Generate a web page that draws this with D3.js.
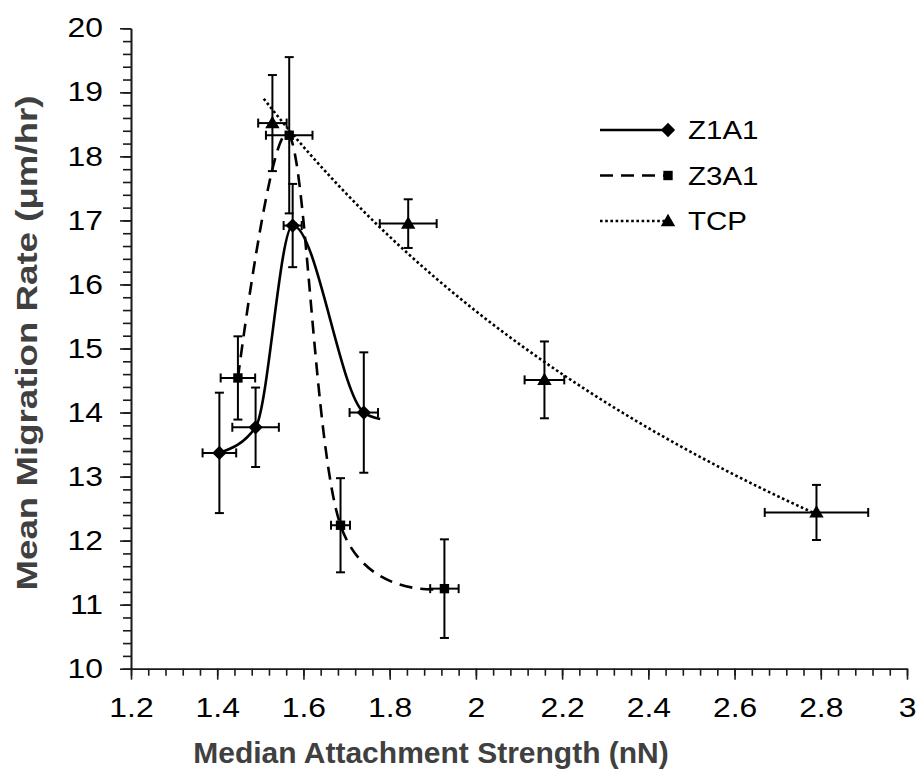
<!DOCTYPE html>
<html>
<head>
<meta charset="utf-8">
<script src="https://cdn.jsdelivr.net/npm/d3@7"></script>
<style>
  html, body { margin: 0; padding: 0; background: #fff; }
  svg { display: block; }
</style>
</head>
<body>
<div id="container"></div>
<script>
// data
const z1Strength = [1.405, 1.489, 1.575, 1.740];
const z1Rate = [13.37, 13.77, 16.92, 14.00];
const z1RateErr = [0.94, 0.62, 0.65, 0.94];
const z1StrengthErr = [0.039, 0.054, 0.021, 0.033];
const z1LineEnd = [1.778, 13.90]; // the smoothed Z1A1 line runs on a little past the last marker

const z3Strength = [1.448, 1.567, 1.686, 1.927];
const z3Rate = [14.54, 18.33, 12.24, 11.25];
const z3RateErr = [0.65, 1.22, 0.735, 0.77];
const z3StrengthErr = [0.040, 0.054, 0.022, 0.033];

const tcpStrength = [1.528, 1.843, 2.159, 2.790];
const tcpRate = [18.52, 16.95, 14.51, 12.44];
const tcpRateErr = [0.75, 0.38, 0.60, 0.43];
const tcpStrengthErr = [0.033, 0.066, 0.046, 0.120];

const seriesNames = ['Z1A1', 'Z3A1', 'TCP'];
const xTicks = [1.2, 1.4, 1.6, 1.8, 2, 2.2, 2.4, 2.6, 2.8, 3];
const yTicks = [10, 11, 12, 13, 14, 15, 16, 17, 18, 19, 20];

const width = 917, height = 777;
const SX = 1.18; // tick and legend text in the original is a bit wide
const FONT = '"Liberation Sans", Arial, sans-serif';

const svg = d3.select('div#container').append('svg')
	.attr('width', width)
	.attr('height', height)
	.style('background', '#fff');

const x = d3.scaleLinear().domain([1.2, 3]).range([131, 907]);
const y = d3.scaleLinear().domain([10, 20]).range([668.7, 28.3]);

// axes (minor first, then major with labels)
const xMinor = d3.range(0, 46).map(i => 1.2 + i * 0.04);
const yMinor = d3.range(0, 51).map(i => 10 + i * 0.2);

svg.append('g')
	.attr('transform', `translate(0,${y(10)})`)
	.call(d3.axisBottom(x).tickValues(xMinor).tickSize(7).tickSizeOuter(0).tickFormat(''));
svg.append('g')
	.attr('transform', `translate(${x(1.2)},0)`)
	.call(d3.axisLeft(y).tickValues(yMinor).tickSize(8).tickSizeOuter(0).tickFormat(''));

const xAxis = svg.append('g')
	.attr('transform', `translate(0,${y(10)})`)
	.call(d3.axisBottom(x).tickValues(xTicks).tickSize(11).tickSizeOuter(0).tickPadding(18).tickFormat(d => String(d)));
const yAxis = svg.append('g')
	.attr('transform', `translate(${x(1.2)},0)`)
	.call(d3.axisLeft(y).tickValues(yTicks).tickSize(11).tickSizeOuter(0).tickPadding(17).tickFormat(d => String(d)));

svg.selectAll('.domain, .tick line').attr('stroke', '#1a1a1a').attr('stroke-width', 1.6);
xAxis.selectAll('.tick text')
	.attr('font-family', FONT).attr('font-size', 27).attr('fill', '#000')
	.attr('transform', `scale(${SX},1)`);
yAxis.selectAll('.tick text')
	.attr('font-family', FONT).attr('font-size', 27).attr('fill', '#000')
	.attr('x', -28 / SX)
	.attr('transform', `scale(${SX},1)`);

// axis titles
svg.append('text')
	.attr('x', 431).attr('y', 763)
	.attr('text-anchor', 'middle')
	.attr('font-family', FONT).attr('font-weight', 'bold').attr('font-size', 30)
	.attr('fill', '#404040')
	.text('Median Attachment Strength (nN)');

svg.append('text')
	.attr('transform', 'translate(37,343) rotate(-90)')
	.attr('text-anchor', 'middle')
	.attr('font-family', FONT).attr('font-weight', 'bold').attr('font-size', 30)
	.attr('textLength', 495).attr('lengthAdjust', 'spacingAndGlyphs')
	.attr('fill', '#404040')
	.text('Mean Migration Rate (μm/hr)');

// series
const series = [
	{ name: 'Z1A1', xs: z1Strength, ys: z1Rate, ye: z1RateErr, xe: z1StrengthErr, dash: null, marker: 'diamond' },
	{ name: 'Z3A1', xs: z3Strength, ys: z3Rate, ye: z3RateErr, xe: z3StrengthErr, dash: '13,8', marker: 'square' },
	{ name: 'TCP', xs: tcpStrength, ys: tcpRate, ye: tcpRateErr, xe: tcpStrengthErr, dash: '2.6,2.6', marker: 'triangle' },
];

const symbolFor = {
	diamond: d3.symbol().type(d3.symbolDiamond2).size(130),
	square: d3.symbol().type(d3.symbolSquare2).size(112),
	triangle: d3.symbol().type(d3.symbolTriangle).size(90),
};

// Z1A1 and Z3A1: smoothed lines through the points
const z1Line = z1Strength.map((v, i) => [v, z1Rate[i]]).concat([z1LineEnd]);
const z3Line = z3Strength.map((v, i) => [v, z3Rate[i]]);
const z1Path = d3.line().x(d => x(d[0])).y(d => y(d[1])).curve(d3.curveMonotoneX);
const z3Path = d3.line().x(d => x(d[0])).y(d => y(d[1])).curve(d3.curveCatmullRom.alpha(0));

svg.append('path')
	.attr('d', z1Path(z1Line))
	.attr('fill', 'none')
	.attr('stroke', '#000')
	.attr('stroke-width', 2.6);
svg.append('path')
	.attr('d', z3Path(z3Line))
	.attr('fill', 'none')
	.attr('stroke', '#000')
	.attr('stroke-width', 2.6)
	.attr('stroke-dasharray', '13,8');

// TCP: power trendline fitted to its points
const lx = tcpStrength.map(Math.log), ly = tcpRate.map(Math.log);
const mx = d3.mean(lx), my = d3.mean(ly);
const b = d3.sum(lx, (v, i) => (v - mx) * (ly[i] - my)) / d3.sum(lx, v => (v - mx) ** 2);
const a = Math.exp(my - b * mx);
const lo = d3.min(tcpStrength) - 0.02, hi = d3.max(tcpStrength);
const trendX = d3.range(0, 81).map(i => lo + (hi - lo) * i / 80);
svg.append('path')
	.attr('d', d3.line().x(d => x(d)).y(d => y(a * Math.pow(d, b)))(trendX))
	.attr('fill', 'none')
	.attr('stroke', '#000')
	.attr('stroke-width', 2.6)
	.attr('stroke-dasharray', '2.6,2.6');

// error bars and markers
const cap = 4.5;
series.forEach(s => {
	const g = svg.append('g').attr('stroke', '#000').attr('stroke-width', 2);
	s.xs.forEach((v, i) => {
		const cx = x(v), cy = y(s.ys[i]);
		const y0 = y(s.ys[i] - s.ye[i]), y1 = y(s.ys[i] + s.ye[i]);
		const x0 = x(v - s.xe[i]), x1 = x(v + s.xe[i]);
		g.append('line').attr('x1', cx).attr('x2', cx).attr('y1', y0).attr('y2', y1);
		g.append('line').attr('x1', cx - cap).attr('x2', cx + cap).attr('y1', y0).attr('y2', y0);
		g.append('line').attr('x1', cx - cap).attr('x2', cx + cap).attr('y1', y1).attr('y2', y1);
		g.append('line').attr('x1', x0).attr('x2', x1).attr('y1', cy).attr('y2', cy);
		g.append('line').attr('x1', x0).attr('x2', x0).attr('y1', cy - cap).attr('y2', cy + cap);
		g.append('line').attr('x1', x1).attr('x2', x1).attr('y1', cy - cap).attr('y2', cy + cap);
	});
	svg.append('g').selectAll('path')
		.data(s.xs.map((v, i) => [v, s.ys[i]]))
		.enter()
		.append('path')
		.attr('transform', d => `translate(${x(d[0])},${y(d[1]) + (s.marker === 'triangle' ? 1 : 0)})`)
		.attr('d', symbolFor[s.marker])
		.attr('fill', '#000');
});

// legend
const legend = svg.append('g').attr('transform', 'translate(600,130)');
series.forEach((s, i) => {
	const row = legend.append('g').attr('transform', `translate(0,${i * 45.5})`);
	row.append('line')
		.attr('x1', 0).attr('x2', 68).attr('y1', 0).attr('y2', 0)
		.attr('stroke', '#000').attr('stroke-width', 2.6)
		.attr('stroke-dasharray', s.dash);
	row.append('path')
		.attr('transform', `translate(68,${s.marker === 'triangle' ? 1 : 0})`)
		.attr('d', symbolFor[s.marker])
		.attr('fill', '#000');
	row.append('g')
		.attr('transform', `translate(88,9) scale(${SX},1)`)
		.append('text')
		.attr('font-family', FONT).attr('font-size', 25)
		.attr('fill', '#000')
		.text(s.name);
});
</script>
</body>
</html>
